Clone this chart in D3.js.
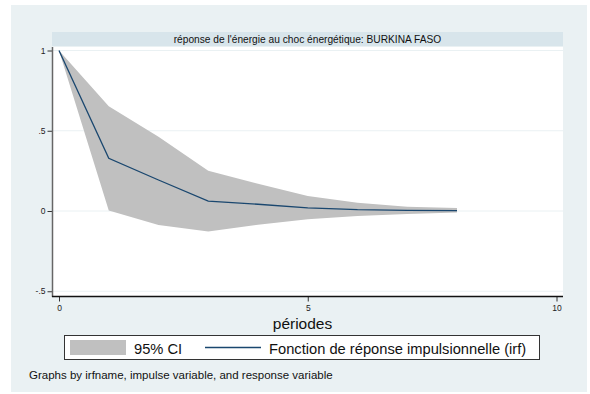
<!DOCTYPE html>
<html><head><meta charset="utf-8">
<script src="https://cdn.jsdelivr.net/npm/d3@7"></script>
<style>html,body{margin:0;padding:0;background:#fff;}svg{display:block;font-family:"Liberation Sans",Arial,sans-serif;}</style>
</head><body>
<script>
const periods = [0,1,2,3,4,5,6,7,8];
const irf     = [1, 0.328, 0.193, 0.062, 0.042, 0.019, 0.008, 0.004, 0.002];
const upper   = [1, 0.652, 0.463, 0.251, 0.170, 0.093, 0.052, 0.027, 0.018];
const lower   = [1, 0.003, -0.087, -0.127, -0.085, -0.052, -0.031, -0.019, -0.010];
const xTicks = [0,5,10];
const yTicks = [-0.5,0,0.5,1];
const yTickLabels = ["-.5","0",".5","1"];
const title = "réponse de l'énergie au choc énergétique: BURKINA FASO";
const xTitle = "périodes";
const legendLabels = ["95% CI","Fonction de réponse impulsionnelle (irf)"];
const note = "Graphs by irfname, impulse variable, and response variable";

const W=590,H=394;
const svg=d3.select("body").append("svg").attr("width",W).attr("height",H);
svg.append("rect").attr("x",11).attr("y",5).attr("width",576).attr("height",387).attr("fill","#eaf1f3");
// title strip
svg.append("rect").attr("x",52).attr("y",32).attr("width",511).attr("height",14).attr("fill","#d8e5eb");
svg.append("text").attr("x",307.5).attr("y",42.5).attr("text-anchor","middle").attr("font-size",10.2).attr("fill","#111").text(title);
// plot region
svg.append("rect").attr("x",53).attr("y",47).attr("width",510).attr("height",250).attr("fill","#fff");

const x=d3.scaleLinear().domain([0,10]).range([59,556.5]);
const y=d3.scaleLinear().domain([0,1]).range([211,50.5]);

// gridlines
svg.append("g").selectAll("line").data(yTicks).join("line")
  .attr("x1",53).attr("x2",563).attr("y1",d=>y(d)).attr("y2",d=>y(d))
  .attr("stroke","#eaf1f3").attr("stroke-width",1);

// CI area
const area=d3.area().x((d,i)=>x(periods[i])).y0((d,i)=>y(lower[i])).y1((d,i)=>y(upper[i]));
svg.append("path").datum(periods).attr("d",area).attr("fill","#c0c0c0");
// irf line
const line=d3.line().x((d,i)=>x(periods[i])).y((d,i)=>y(irf[i]));
svg.append("path").datum(periods).attr("d",line).attr("fill","none").attr("stroke","#1a476f").attr("stroke-width",1.3);

// y axis
const yAxis=d3.axisLeft(y).tickValues(yTicks).tickFormat((d,i)=>yTickLabels[i]).tickSize(5).tickPadding(2);
const gy=svg.append("g").attr("transform","translate(52.5,0)").call(yAxis);
gy.select(".domain").remove();
gy.append("line").attr("x1",0).attr("x2",0).attr("y1",47).attr("y2",297).attr("stroke","#666").attr("stroke-width",1.5);
gy.selectAll(".tick line").attr("stroke","#333");
gy.selectAll(".tick text").attr("font-size",8.5).attr("fill","#222").attr("font-family","Liberation Sans, Arial, sans-serif");

// x axis
const xAxis=d3.axisBottom(x).tickValues(xTicks).tickSize(5).tickPadding(3);
const gx=svg.append("g").attr("transform","translate(0,296.5)").call(xAxis);
gx.select(".domain").remove();
gx.append("line").attr("x1",52).attr("x2",563).attr("y1",0).attr("y2",0).attr("stroke","#111").attr("stroke-width",1.3);
gx.selectAll(".tick line").attr("stroke","#333");
gx.selectAll(".tick text").attr("font-size",8.5).attr("fill","#222").attr("font-family","Liberation Sans, Arial, sans-serif");

svg.append("text").attr("x",302.5).attr("y",329).attr("text-anchor","middle").attr("font-size",15.5).attr("fill","#111").text(xTitle);

// legend
svg.append("rect").attr("x",64.5).attr("y",335.5).attr("width",475).attr("height",24).attr("fill","#fff").attr("stroke","#333").attr("stroke-width",1);
svg.append("rect").attr("x",70).attr("y",340).attr("width",56).attr("height",15).attr("fill","#c0c0c0");
svg.append("text").attr("x",134).attr("y",353.5).attr("font-size",14.7).attr("fill","#111").text(legendLabels[0]);
svg.append("line").attr("x1",205).attr("x2",261).attr("y1",347.5).attr("y2",347.5).attr("stroke","#1a476f").attr("stroke-width",1.3);
svg.append("text").attr("x",269).attr("y",353.5).attr("font-size",14.7).attr("fill","#111").text(legendLabels[1]);

svg.append("text").attr("x",29).attr("y",379).attr("font-size",11.5).attr("fill","#111").text(note);
</script>
</body></html>
